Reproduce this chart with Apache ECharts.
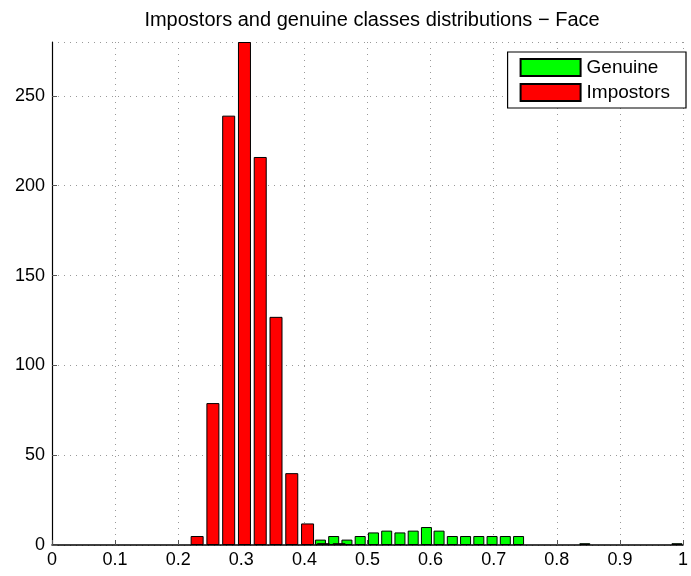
<!DOCTYPE html>
<html>
<head>
<meta charset="utf-8">
<script src="https://cdn.jsdelivr.net/npm/echarts@6/dist/echarts.min.js"></script>
<style>html,body{margin:0;padding:0;background:#fff}#c{width:691px;height:576px}</style>
</head>
<body>
<div id="c"></div>
<script>
var title = 'Impostors and genuine classes distributions \u2212 Face';
var impostorX = [0.23, 0.255, 0.28, 0.305, 0.33, 0.355, 0.38, 0.405, 0.43, 0.455];
var impostorY = [5, 79, 239, 280, 216, 127, 40, 12, 1, 1];
var genuineX = [0.427, 0.448, 0.469, 0.490, 0.511, 0.532, 0.553, 0.574, 0.595, 0.615, 0.636, 0.657, 0.678, 0.699, 0.720, 0.741, 0.846, 0.992];
var genuineY = [3, 5, 3, 5, 7, 8, 7, 8, 10, 8, 5, 5, 5, 5, 5, 5, 1, 1];
var xTicks = [0, 0.1, 0.2, 0.3, 0.4, 0.5, 0.6, 0.7, 0.8, 0.9, 1];
var yTicks = [0, 50, 100, 150, 200, 250];

function pairs(xs, ys) { return xs.map(function (x, i) { return [x, ys[i]]; }); }

var font = 'Liberation Sans, Arial, sans-serif';
var chart = echarts.init(document.getElementById('c'), null, {renderer: 'canvas'});
chart.setOption({
  animation: false,
  backgroundColor: '#fff',
  title: {
    text: title, left: 367, top: 5, textAlign: 'center',
    textStyle: {fontFamily: font, fontSize: 20, fontWeight: 'normal', color: '#000'}
  },
  legend: {
    orient: 'vertical', right: 5, top: 52,
    itemWidth: 60, itemHeight: 17, itemGap: 6,
    padding: [6, 16, 6, 12],
    borderColor: '#000', borderWidth: 1.2, backgroundColor: '#fff',
    textStyle: {fontFamily: font, fontSize: 19, color: '#000', padding: [0, 0, 0, 1]},
    data: [{name: 'Genuine', icon: 'rect'}, {name: 'Impostors', icon: 'rect'}]
  },
  grid: {left: 52, right: 3, top: 42, bottom: 31},
  xAxis: {
    type: 'value', min: 0, max: 1, interval: 0.1,
    axisLine: {show: true, onZero: false, lineStyle: {color: '#000', width: 1.5}},
    axisTick: {show: true, inside: true, length: 5, lineStyle: {color: '#555'}},
    axisLabel: {fontFamily: font, fontSize: 18, color: '#000', margin: 6,
      formatter: function (v) { var r = Math.round(v * 10) / 10; return xTicks.indexOf(r) >= 0 ? String(r) : ''; }},
    splitLine: {show: true, lineStyle: {color: '#999', type: [1, 5], width: 1}}
  },
  yAxis: {
    type: 'value', min: 0, max: 280, interval: 50,
    axisLine: {show: true, onZero: false, lineStyle: {color: '#000', width: 1.2}},
    axisTick: {show: true, inside: true, length: 5, lineStyle: {color: '#555'}},
    axisLabel: {fontFamily: font, fontSize: 18, color: '#000', margin: 7, showMaxLabel: false,
      formatter: function (v) { return yTicks.indexOf(v) >= 0 ? String(v) : ''; }},
    splitLine: {show: true, lineStyle: {color: '#999', type: [1, 5], width: 1}}
  },
  series: [
    {
      name: 'Genuine', type: 'bar', barWidth: 11, barGap: '-100%',
      data: pairs(genuineX, genuineY),
      itemStyle: {color: '#00ff00', borderColor: '#000', borderWidth: 1}
    },
    {
      name: 'Impostors', type: 'bar', barWidth: 13, barGap: '-100%',
      data: pairs(impostorX, impostorY),
      itemStyle: {color: '#ff0000', borderColor: '#000', borderWidth: 1}
    }
  ]
});
</script>
</body>
</html>
